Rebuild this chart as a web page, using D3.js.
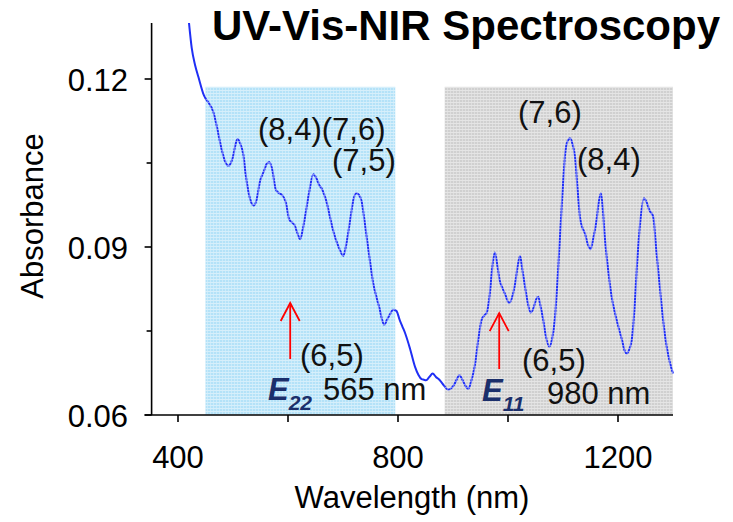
<!DOCTYPE html>
<html><head><meta charset="utf-8">
<script src="https://cdn.jsdelivr.net/npm/d3@7"></script>
<style>html,body{margin:0;padding:0;background:#fff;}svg{display:block;}</style>
</head><body><svg id="c" width="733" height="522"></svg>
<script>
const wavelength = [420,425,431,437,447,458,464,470,479,486,491.5,497,500.6,505,508.5,513,519,523,528,533,538,543,549,556,561,566,571,578,584,590,596,602,607,612,617,622,627,631,638,646,652,657,661,666,670,676,682,690,695,700.5,706,713,719,724,729,734,738,743,749,755,761,767,771,775,780,785,791,797,803,808,813,822,831,837,843,847,851,857,863,869,876,884,891.5,897,902,907,911.5,915,919,924,928,933,940,946,952,957,961,967,971,976,981,985,989,995,1002,1008,1013,1018,1022,1026,1031,1036,1041,1046,1051,1055,1059,1064,1069,1075,1080,1085,1090,1094.5,1099,1104,1108,1113,1117,1122,1126,1131,1135,1140,1145,1150,1155,1161,1165,1169,1173,1176,1182,1188.5,1195,1200.6,1207,1212,1216,1220,1225,1230,1234,1240,1247,1252,1257,1264,1270,1276,1282,1288.5,1294,1300];
const absorbance = [0.1300,0.1255,0.1225,0.1204,0.1171,0.1154,0.1142,0.1118,0.1076,0.1052,0.1045,0.1052,0.1064,0.1085,0.1093,0.1085,0.1064,0.1030,0.0999,0.0980,0.0974,0.0985,0.1017,0.1035,0.1048,0.1052,0.1040,0.1002,0.0996,0.0992,0.0980,0.0950,0.0944,0.0939,0.0925,0.0914,0.0932,0.0954,0.0995,0.1030,0.1022,0.1010,0.1005,0.0993,0.0981,0.0955,0.0930,0.0905,0.0893,0.0884,0.0905,0.0948,0.0985,0.0996,0.0993,0.0981,0.0955,0.0918,0.0875,0.0835,0.0810,0.0788,0.0770,0.0761,0.0770,0.0779,0.0788,0.0786,0.0770,0.0758,0.0746,0.0718,0.0686,0.0672,0.0664,0.0663,0.0662,0.0668,0.0674,0.0668,0.0662,0.0652,0.0645,0.0648,0.0654,0.0664,0.0671,0.0667,0.0659,0.0650,0.0647,0.0660,0.0690,0.0735,0.0770,0.0778,0.0782,0.0817,0.0860,0.0890,0.0865,0.0840,0.0829,0.0815,0.0800,0.0812,0.0835,0.0868,0.0884,0.0860,0.0829,0.0800,0.0783,0.0790,0.0806,0.0811,0.0795,0.0770,0.0740,0.0722,0.0735,0.0770,0.0840,0.0918,0.0995,0.1067,0.1088,0.1094,0.1085,0.1060,0.1010,0.0952,0.0935,0.0924,0.0905,0.0896,0.0915,0.0948,0.0980,0.0996,0.0960,0.0918,0.0860,0.0811,0.0780,0.0758,0.0735,0.0715,0.0710,0.0716,0.0734,0.0790,0.0859,0.0940,0.0987,0.0980,0.0966,0.0954,0.0890,0.0829,0.0770,0.0722,0.0695,0.0674];
const xTicksMajor = [400, 800, 1200];
const xTicksMinor = [600, 1000];
const yTicksMajor = [0.06, 0.09, 0.12];
const yTicksMinor = [0.075, 0.105];
const bandStart = [450, 885];
const bandEnd = [795, 1300];
const bandTop = [0.1186, 0.1186];
const arrowNm = [604, 984];

const svg = d3.select("#c");
const FONT = "Arial, 'Liberation Sans', sans-serif";
const x = d3.scaleLinear().domain([352, 1300]).range([151.6, 673]);
const y = d3.scaleLinear().domain([0.06, 0.13]).range([415, 23]);

const defs = svg.append("defs");
const pat = defs.append("pattern").attr("id","dots").attr("patternUnits","userSpaceOnUse")
  .attr("width",3).attr("height",3);
pat.append("rect").attr("x",0).attr("y",0).attr("width",3).attr("height",1).attr("fill","#fff").attr("opacity",0.45);
pat.append("rect").attr("x",0).attr("y",1).attr("width",1).attr("height",2).attr("fill","#fff").attr("opacity",0.3);

const bandColors = ["#b4e2f8", "#d0d0d0"];
const bands = bandStart.map((s,i)=>({s, e:bandEnd[i], t:bandTop[i], c:bandColors[i]}));
svg.selectAll("rect.band").data(bands).join("rect").attr("class","band")
  .attr("x", d=>x(d.s)).attr("width", d=>x(d.e)-x(d.s))
  .attr("y", d=>y(d.t)).attr("height", d=>y(0.06)-y(d.t)).attr("fill", d=>d.c);

const pts = wavelength.map((w,i)=>[w, absorbance[i]]);
const line = d3.line().x(d=>x(d[0])).y(d=>y(d[1])).curve(d3.curveMonotoneX);
svg.append("path").datum(pts).attr("d", line).attr("fill","none")
  .attr("stroke","#1f2ff5").attr("stroke-width",2);

svg.selectAll("rect.bandov").data(bands).join("rect").attr("class","bandov")
  .attr("x", d=>x(d.s)).attr("width", d=>x(d.e)-x(d.s))
  .attr("y", d=>y(d.t)).attr("height", d=>y(0.06)-y(d.t)).attr("fill", "url(#dots)");

// axes
const ax = svg.append("g").attr("stroke","#000").attr("stroke-width",1.6);
ax.append("line").attr("x1", x.range()[0]).attr("x2", x.range()[0]).attr("y1", y(0.13)).attr("y2", y(0.06));
ax.append("line").attr("x1", x.range()[0]-7).attr("x2", x.range()[1]).attr("y1", y(0.06)).attr("y2", y(0.06));
yTicksMajor.forEach(v=>ax.append("line").attr("x1", x.range()[0]-7).attr("x2", x.range()[0]).attr("y1", y(v)).attr("y2", y(v)));
yTicksMinor.forEach(v=>ax.append("line").attr("x1", x.range()[0]-5).attr("x2", x.range()[0]).attr("y1", y(v)).attr("y2", y(v)));
xTicksMajor.concat(xTicksMinor).forEach(v=>ax.append("line").attr("x1", x(v)).attr("x2", x(v)).attr("y1", y(0.06)).attr("y2", y(0.06)+7));

svg.selectAll("text.yt").data(yTicksMajor).join("text").attr("class","yt")
  .attr("x", 128).attr("y", d=>y(d)+11.5).attr("text-anchor","end")
  .attr("font-family",FONT).attr("font-size",31).text(d=>d.toFixed(2));
svg.selectAll("text.xt").data(xTicksMajor).join("text").attr("class","xt")
  .attr("x", d=>x(d)).attr("y", 468).attr("text-anchor","middle")
  .attr("font-family",FONT).attr("font-size",31).text(d=>d);

svg.append("text").attr("x",412).attr("y",508).attr("text-anchor","middle")
  .attr("font-family",FONT).attr("font-size",31).text("Wavelength (nm)");
svg.append("text").attr("transform","translate(43,216) rotate(-90)").attr("text-anchor","middle")
  .attr("font-family",FONT).attr("font-size",31).text("Absorbance");
svg.append("text").attr("x",212).attr("y",40).attr("font-family",FONT).attr("font-weight","bold")
  .attr("font-size",42).text("UV-Vis-NIR Spectroscopy");

// annotations
function label(px, py, s){
  svg.append("text").attr("x",px).attr("y",py).attr("font-family",FONT).attr("font-size",31).attr("fill","#111").text(s);
}
label(258,140,"(8,4)(7,6)");
label(332,171,"(7,5)");
label(518,123,"(7,6)");
label(577,170,"(8,4)");
label(300,366,"(6,5)");
label(522,371,"(6,5)");
label(323,400,"565 nm");
label(547,404,"980 nm");
function eLabel(px, py, sub){
  const t = svg.append("text").attr("x",px).attr("y",py).attr("font-family",FONT)
    .attr("font-weight","bold").attr("font-style","italic").attr("fill","#1b2f6b");
  t.append("tspan").attr("font-size",31).text("E");
  t.append("tspan").attr("font-size",21).attr("dy",10).text(sub);
}
eLabel(268,400,"22");
eLabel(482,401,"11");

// arrows
const arrows = [{nm:arrowNm[0], y0:0.0700, y1:0.0800},{nm:arrowNm[1], y0:0.0682, y1:0.0782}];
arrows.forEach(a=>{
  const g = svg.append("g").attr("stroke","#ff0000").attr("stroke-width",1.8).attr("fill","none");
  const px = x(a.nm);
  g.append("line").attr("x1",px).attr("x2",px).attr("y1",y(a.y0)).attr("y2",y(a.y1));
  g.append("path").attr("d",`M${px-9.5},${y(a.y1)+18} L${px},${y(a.y1)} L${px+9.5},${y(a.y1)+18}`);
});
</script></body></html>
